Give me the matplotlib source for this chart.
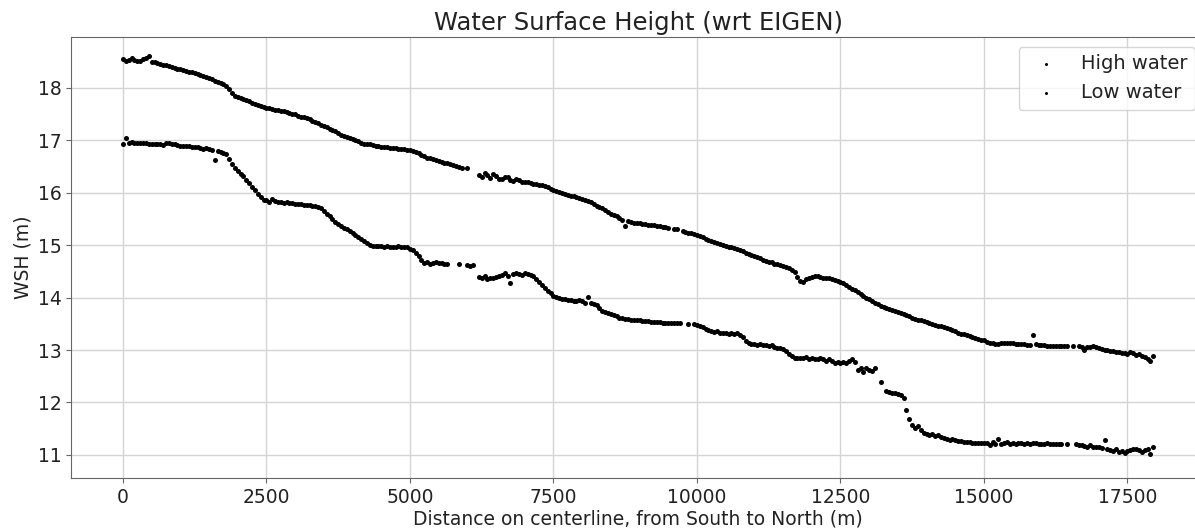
import numpy as np
import matplotlib.pyplot as plt

distance = np.arange(0, 18000, 50)

nan = np.nan
high_water = [
    18.55, 18.52, 18.53, 18.56, 18.54, 18.51, 18.52, 18.55, 18.56, 18.60, 18.50, 18.49, 18.47, 18.46, 18.44, 18.43, 18.41, 18.39, 18.38, 18.36,
    18.35, 18.34, 18.32, 18.31, 18.30, 18.28, 18.26, 18.24, 18.22, 18.20, 18.18, 18.16, 18.14, 18.12, 18.10, 18.07, 18.04, 17.97, 17.90, 17.84,
    17.82, 17.80, 17.79, 17.77, 17.74, 17.72, 17.70, 17.68, 17.65, 17.64, 17.62, 17.61, 17.60, 17.58, 17.57, 17.56, 17.55, 17.53, 17.52, 17.51,
    17.50, 17.47, 17.45, 17.44, 17.42, 17.40, 17.37, 17.35, 17.33, 17.30, 17.27, 17.25, 17.22, 17.20, 17.17, 17.14, 17.11, 17.09, 17.07, 17.05,
    17.03, 17.00, 16.98, 16.95, 16.93, 16.93, 16.92, 16.91, 16.90, 16.89, 16.88, 16.88, 16.87, 16.86, 16.85, 16.85, 16.84, 16.83, 16.83, 16.82,
    16.82, 16.80, 16.78, 16.75, 16.72, 16.70, 16.67, 16.66, 16.64, 16.62, 16.60, 16.59, 16.57, 16.56, 16.54, 16.53, 16.51, 16.50, 16.48, nan,
    16.47, nan, nan, nan, 16.34, 16.30, 16.37, 16.33, 16.28, 16.35, 16.32, 16.27, 16.26, 16.30, 16.30, 16.25, 16.22, 16.27, 16.25, 16.21,
    16.20, 16.21, 16.19, 16.17, 16.16, 16.15, 16.14, 16.12, 16.11, 16.08, 16.06, 16.04, 16.02, 16.00, 15.98, 15.96, 15.94, 15.93, 15.91, 15.90,
    15.88, 15.87, 15.85, 15.82, 15.78, 15.75, 15.72, 15.70, 15.68, 15.64, 15.60, 15.57, 15.55, 15.52, 15.48, 15.36, 15.47, 15.45, 15.43, 15.42,
    15.42, 15.41, 15.40, 15.39, 15.38, 15.38, 15.37, 15.36, 15.35, 15.34, 15.33, nan, 15.31, 15.30, nan, 15.27, 15.26, 15.24, 15.23, 15.21,
    15.19, 15.17, 15.15, 15.12, 15.10, 15.08, 15.06, 15.04, 15.02, 15.00, 14.99, 14.97, 14.96, 14.95, 14.93, 14.90, 14.88, 14.86, 14.84, 14.81,
    14.79, 14.77, 14.75, 14.72, 14.70, 14.68, 14.67, 14.65, 14.64, 14.62, 14.60, 14.58, 14.57, 14.53, 14.48, 14.40, 14.32, 14.30, 14.35, 14.38,
    14.40, 14.41, 14.41, 14.40, 14.38, 14.38, 14.37, 14.36, 14.34, 14.32, 14.30, 14.27, 14.24, 14.20, 14.17, 14.14, 14.10, 14.06, 14.03, 14.00,
    13.97, 13.93, 13.90, 13.87, 13.84, 13.82, 13.80, 13.78, 13.76, 13.74, 13.73, 13.71, 13.69, 13.66, 13.64, 13.62, 13.60, 13.58, 13.57, 13.55,
    13.54, 13.52, 13.50, 13.48, 13.46, 13.45, 13.44, 13.42, 13.40, 13.38, 13.36, 13.33, 13.31, 13.30, 13.28, 13.26, 13.24, 13.23, 13.22, 13.20,
    13.19, 13.16, 13.14, 13.13, 13.12, 13.12, 13.13, 13.14, 13.14, 13.13, 13.13, 13.12, 13.12, 13.11, 13.11, 13.10, 13.10, 13.28, 13.12, 13.10,
    13.09, 13.09, 13.08, 13.08, 13.08, 13.08, 13.08, 13.08, 13.08, 13.08, nan, 13.08, nan, 13.07, 13.06, 13.00, 13.06, 13.05, 13.07, 13.06,
    13.03, 13.02, 13.01, 13.00, 12.99, 12.98, 12.97, 12.96, 12.95, 12.94, 12.93, 12.96, 12.94, 12.90, 12.92, 12.88, 12.86, 12.83, 12.80, 12.88,
]

low_water = [
    16.92, 17.05, 16.95, 16.96, 16.95, 16.95, 16.94, 16.94, 16.94, 16.93, 16.93, 16.93, 16.92, 16.92, 16.91, 16.95, 16.94, 16.92, 16.92, 16.91,
    16.90, 16.90, 16.89, 16.89, 16.88, 16.88, 16.87, 16.86, 16.84, 16.85, 16.83, 16.82, 16.62, 16.80, 16.78, 16.76, 16.74, 16.65, 16.55, 16.48,
    16.42, 16.36, 16.31, 16.25, 16.18, 16.10, 16.05, 15.98, 15.92, 15.87, 15.86, 15.83, 15.88, 15.84, 15.83, 15.82, 15.81, 15.82, 15.80, 15.80,
    15.79, 15.78, 15.78, 15.77, 15.77, 15.76, 15.75, 15.74, 15.73, 15.70, 15.66, 15.60, 15.55, 15.50, 15.45, 15.40, 15.36, 15.32, 15.30, 15.27,
    15.24, 15.20, 15.16, 15.12, 15.08, 15.04, 15.00, 14.99, 14.98, 14.98, 14.98, 14.97, 14.98, 14.97, 14.97, 14.96, 14.98, 14.97, 14.96, 14.96,
    14.93, 14.90, 14.86, 14.80, 14.72, 14.66, 14.68, 14.64, 14.66, 14.67, 14.66, 14.66, 14.65, 14.65, nan, nan, nan, 14.65, nan, nan,
    14.62, 14.61, 14.62, nan, 14.40, 14.38, 14.42, 14.36, 14.38, 14.37, 14.40, 14.41, 14.44, 14.46, 14.42, 14.28, 14.45, 14.46, 14.45, 14.44,
    14.46, 14.45, 14.44, 14.42, 14.36, 14.30, 14.24, 14.18, 14.12, 14.08, 14.04, 14.02, 14.00, 13.98, 13.97, 13.96, 13.95, 13.94, 13.93, 13.96,
    13.93, 13.90, 14.02, 13.90, 13.88, 13.86, 13.80, 13.74, 13.72, 13.70, 13.68, 13.66, 13.65, 13.62, 13.61, 13.60, 13.60, 13.58, 13.58, 13.57,
    13.57, 13.56, 13.55, 13.55, 13.54, 13.54, 13.53, 13.53, 13.52, 13.52, 13.52, 13.51, 13.51, 13.51, 13.51, nan, nan, 13.50, nan, 13.49,
    13.47, 13.45, 13.43, 13.40, 13.38, 13.36, 13.34, 13.36, 13.33, 13.32, 13.32, 13.31, 13.33, 13.30, 13.32, 13.28, 13.24, 13.18, 13.14, 13.12,
    13.12, 13.10, 13.11, 13.09, 13.10, 13.08, 13.10, 13.06, 13.04, 13.03, 13.02, 12.98, 12.93, 12.88, 12.85, 12.84, 12.85, 12.84, 12.86, 12.83,
    12.84, 12.83, 12.82, 12.85, 12.82, 12.79, 12.82, 12.80, 12.76, 12.78, 12.75, 12.78, 12.76, 12.80, 12.82, 12.78, 12.62, 12.66, 12.58, 12.65,
    12.62, 12.60, 12.66, nan, 12.40, nan, 12.21, 12.20, 12.19, 12.18, 12.16, 12.14, 12.08, 11.85, 11.68, 11.58, 11.52, 11.55, 11.47, 11.42,
    11.40, 11.38, 11.40, 11.36, 11.38, 11.35, 11.33, 11.30, 11.28, 11.30, 11.28, 11.27, 11.26, 11.25, 11.24, 11.24, 11.23, 11.23, 11.22, 11.23,
    11.23, 11.22, 11.18, 11.25, 11.21, 11.30, 11.20, 11.22, 11.24, 11.20, 11.22, 11.21, 11.23, 11.22, 11.21, 11.22, 11.21, 11.22, 11.22, 11.21,
    11.21, 11.21, 11.22, 11.21, 11.21, 11.21, 11.20, 11.21, nan, 11.20, nan, nan, 11.20, 11.19, 11.18, 11.17, 11.16, 11.18, 11.15, 11.16,
    11.15, 11.14, 11.28, 11.12, 11.10, 11.08, 11.12, 11.06, 11.08, 11.04, 11.07, 11.10, 11.12, 11.11, 11.09, 11.06, 11.10, 11.12, 11.02, 11.15,
]

fig = plt.figure(figsize=(11.95, 5.29), dpi=100)
# the original picture is cut off on the right, so the axes run past the edge
ax = fig.add_axes([0.0598, 0.0964, 0.9484, 0.8337])

ax.scatter(distance, high_water, s=13, c='black', linewidths=0, label='High water')
ax.scatter(distance, low_water, s=13, c='black', linewidths=0, label='Low water')

ax.set_xlim(-897, 18847)
ax.set_ylim(10.56, 18.97)
ax.set_xticks([0, 2500, 5000, 7500, 10000, 12500, 15000, 17500])
ax.grid(True, color='#d4d4d4', linewidth=1.0)
ax.set_axisbelow(True)

for sp in ax.spines.values():
    sp.set_color('#666666')
ax.tick_params(labelsize=13.5, colors='#222222', color='#666666')

ax.set_title('Water Surface Height (wrt EIGEN)', fontsize=17.5, color='#222222', pad=5)
ax.set_xlabel('Distance on centerline, from South to North (m)', fontsize=13.5, color='#222222', labelpad=2)
ax.set_ylabel('WSH (m)', fontsize=13.5, color='#222222')

leg = ax.legend(loc='upper right', fontsize=14, scatterpoints=1, markerscale=0.6)
for t in leg.get_texts():
    t.set_color('#222222')

fig.savefig('out.png', dpi=100)
